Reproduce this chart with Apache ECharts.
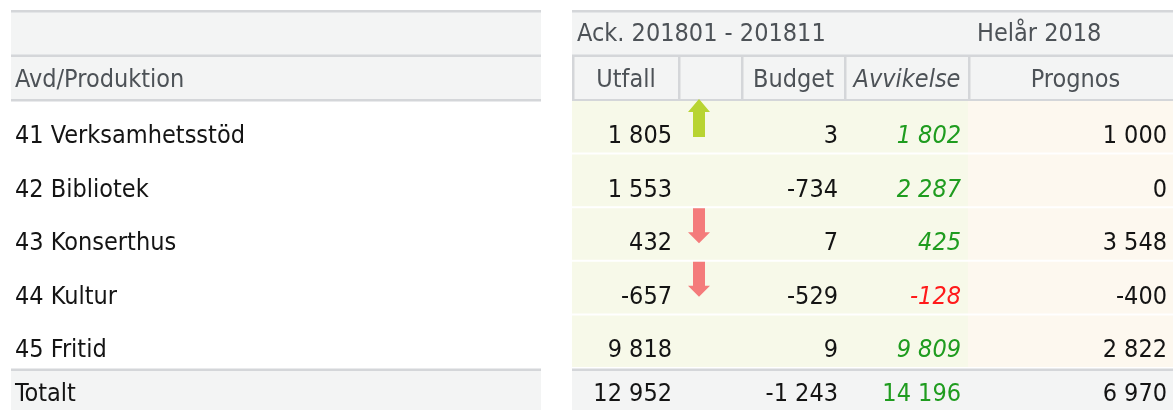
<!DOCTYPE html>
<html>
<head>
<meta charset="utf-8">
<script src="https://cdn.jsdelivr.net/npm/echarts@6.0.0/dist/echarts.min.js"></script>
<style>
html, body { margin: 0; padding: 0; background: #fff; }
#main { width: 1176px; height: 410px; }
</style>
</head>
<body>
<div id="main"></div>
<script>
// table data
const rowHeader = 'Avd/Produktion';
const periodHeaders = ['Ack. 201801 - 201811', 'Helår 2018'];
const columnHeaders = ['Utfall', '', 'Budget', 'Avvikelse', 'Prognos'];
const departments = ['41 Verksamhetsstöd', '42 Bibliotek', '43 Konserthus', '44 Kultur', '45 Fritid'];
const utfall = [1805, 1553, 432, -657, 9818];
const budget = [3, -734, 7, -529, 9];
const avvikelse = [1802, 2287, 425, -128, 9809];
const prognos = [1000, 0, 3548, -400, 2822];
const trend = [1, 0, -1, -1, 0]; // 1 = upp, -1 = ner
const totalLabel = 'Totalt';
const totals = [12952, -1243, 14196, 6970]; // utfall, budget, avvikelse, prognos

// layout (pixels on the hidden x axis)
const leftTable = [11, 541];
const colEdges = [572, 678, 741, 844, 968, 1173];
const FONT = "'DejaVu Sans Condensed', 'DejaVu Sans', sans-serif";
const FS = 25;
const LINE = '#d4d6d9';
const HEAD_BG = '#f3f4f4';
const ACK_BG = '#f7f9e9';
const PROG_BG = '#fdf8ef';

function fmt(v) {
    const s = String(Math.abs(v)).replace(/\B(?=(\d{3})+(?!\d))/g, ' ');
    return (v < 0 ? '-' : '') + s;
}

function txt(text, x, y, align, fill, italic) {
    return {
        type: 'text',
        style: {
            text: text, x: x, y: y, align: align, verticalAlign: 'middle',
            fontSize: FS, fontFamily: FONT, fontStyle: italic ? 'italic' : 'normal',
            fill: fill
        }
    };
}

function rect(x, y, w, h, fill) {
    return { type: 'rect', shape: { x: x, y: y, width: w, height: h }, style: { fill: fill } };
}

function arrow(cx, top, dir, fill) {
    let pts;
    if (dir > 0) {
        const t = top - 1, len = 38, hh = 13;
        pts = [[cx, t], [cx + 11, t + hh], [cx + 6, t + hh], [cx + 6, t + len],
               [cx - 6, t + len], [cx - 6, t + hh], [cx - 11, t + hh]];
    } else {
        const t = top + 1, len = 35, hh = 11;
        pts = [[cx - 6, t], [cx + 6, t], [cx + 6, t + len - hh], [cx + 11, t + len - hh],
               [cx, t + len], [cx - 11, t + len - hh], [cx - 6, t + len - hh]];
    }
    return { type: 'polygon', shape: { points: pts }, style: { fill: fill } };
}

function renderHeader(params, api) {
    const r = api.value(1);
    const X = v => api.coord([v, r])[0];
    const cy = api.coord([0, r])[1];
    const h = api.size([0, 1])[1];
    const top = cy - h / 2, bottom = cy + h / 2;
    const ch = [];
    ch.push(rect(X(leftTable[0]), top, X(leftTable[1]) - X(leftTable[0]), h, HEAD_BG));
    ch.push(rect(X(colEdges[0]), top, X(colEdges[5]) - X(colEdges[0]), h, HEAD_BG));
    // top lines
    ch.push(rect(X(leftTable[0]), top - 1, X(leftTable[1]) - X(leftTable[0]), 2.5, LINE));
    ch.push(rect(X(colEdges[0]), top - 1, X(colEdges[5]) - X(colEdges[0]), 2.5, LINE));
    if (r === 0) {
        ch.push(txt(periodHeaders[0], X(colEdges[0]) + 5, top + 23.5, 'left', '#4d5257'));
        ch.push(txt(periodHeaders[1], X(colEdges[4]) + 9, top + 23.5, 'left', '#4d5257'));
    } else {
        ch.push(rect(X(leftTable[0]), bottom - 1, X(leftTable[1]) - X(leftTable[0]), 2.5, LINE));
        ch.push(rect(X(colEdges[0]), bottom - 1, X(colEdges[5]) - X(colEdges[0]), 2.5, LINE));
        ch.push(txt(rowHeader, X(leftTable[0]) + 4, top + 24.5, 'left', '#4d5257'));
        for (let i = 0; i < 5; i++) {
            ch.push(rect(X(colEdges[i]), top, 2.5, h, LINE));
            const mid = (X(colEdges[i]) + X(colEdges[i + 1])) / 2 + (i === 4 ? 5 : 1);
            ch.push(txt(columnHeaders[i], mid, top + 24.5, 'center', '#4d5257', i === 3));
        }
    }
    return { type: 'group', children: ch };
}

function renderRows(params, api) {
    const r = api.value(1);
    const X = v => api.coord([v, r])[0];
    const cy = api.coord([0, r])[1];
    const h = api.size([0, 1])[1];
    const top = cy - h / 2;
    const ch = [];
    ch.push(rect(X(colEdges[0]), top + 1, X(colEdges[4]) - X(colEdges[0]), h - 2, ACK_BG));
    ch.push(rect(X(colEdges[4]), top + 1, X(colEdges[5]) - X(colEdges[4]), h - 2, PROG_BG));
    const ty = top + 36.5;
    ch.push(txt(departments[r], X(leftTable[0]) + 4, ty, 'left', '#141414'));
    ch.push(txt(fmt(utfall[r]), X(colEdges[1]) - 6, ty, 'right', '#141414'));
    ch.push(txt(fmt(budget[r]), X(colEdges[3]) - 6, ty, 'right', '#141414'));
    ch.push(txt(fmt(avvikelse[r]), X(colEdges[4]) - 7, ty, 'right',
        avvikelse[r] < 0 ? '#ff1a1a' : '#1f9c1f', true));
    ch.push(txt(fmt(prognos[r]), X(colEdges[5]) - 6, ty, 'right', '#141414'));
    if (trend[r] !== 0) {
        const cx = X(colEdges[1]) + 21;
        ch.push(arrow(cx, top, trend[r], trend[r] > 0 ? '#b8d432' : '#f47b7b'));
    }
    return { type: 'group', children: ch };
}

function renderTotal(params, api) {
    const X = v => api.coord([v, 0])[0];
    const cy = api.coord([0, 0])[1];
    const h = api.size([0, 1])[1];
    const top = cy - h / 2;
    const ch = [];
    ch.push(rect(X(leftTable[0]), top, X(leftTable[1]) - X(leftTable[0]), h, HEAD_BG));
    ch.push(rect(X(colEdges[0]), top, X(colEdges[5]) - X(colEdges[0]), h, HEAD_BG));
    ch.push(rect(X(leftTable[0]), top - 0.5, X(leftTable[1]) - X(leftTable[0]), 2.5, LINE));
    ch.push(rect(X(colEdges[0]), top - 0.5, X(colEdges[5]) - X(colEdges[0]), 2.5, LINE));
    const ty = top + 25.5;
    ch.push(txt(totalLabel, X(leftTable[0]) + 4, ty, 'left', '#141414'));
    ch.push(txt(fmt(totals[0]), X(colEdges[1]) - 6, ty, 'right', '#141414'));
    ch.push(txt(fmt(totals[1]), X(colEdges[3]) - 6, ty, 'right', '#141414'));
    ch.push(txt(fmt(totals[2]), X(colEdges[4]) - 7, ty, 'right', '#1f9c1f'));
    ch.push(txt(fmt(totals[3]), X(colEdges[5]) - 6, ty, 'right', '#141414'));
    return { type: 'group', children: ch };
}

const hiddenX = i => ({ type: 'value', gridIndex: i, min: 0, max: 1176, show: false });
const hiddenY = (i, data) => ({ type: 'category', gridIndex: i, data: data, inverse: true, show: false });

const myChart = echarts.init(document.getElementById('main'));
const option = {
    animation: false,
    grid: [
        { left: 0, right: 0, top: 11, height: 89 },
        { left: 0, right: 0, top: 100, height: 268 },
        { left: 0, right: 0, top: 369, height: 41 }
    ],
    xAxis: [hiddenX(0), hiddenX(1), hiddenX(2)],
    yAxis: [hiddenY(0, ['period', 'columns']), hiddenY(1, departments), hiddenY(2, [totalLabel])],
    series: [
        { type: 'custom', xAxisIndex: 0, yAxisIndex: 0, renderItem: renderHeader,
          data: [[0, 0], [0, 1]], encode: { x: 0, y: 1 }, clip: false, silent: true },
        { type: 'custom', xAxisIndex: 1, yAxisIndex: 1, renderItem: renderRows,
          data: departments.map((d, i) => [0, i]), encode: { x: 0, y: 1 }, clip: false, silent: true },
        { type: 'custom', xAxisIndex: 2, yAxisIndex: 2, renderItem: renderTotal,
          data: [[0, 0]], encode: { x: 0, y: 1 }, clip: false, silent: true }
    ]
};
myChart.setOption(option);
</script>
</body>
</html>
